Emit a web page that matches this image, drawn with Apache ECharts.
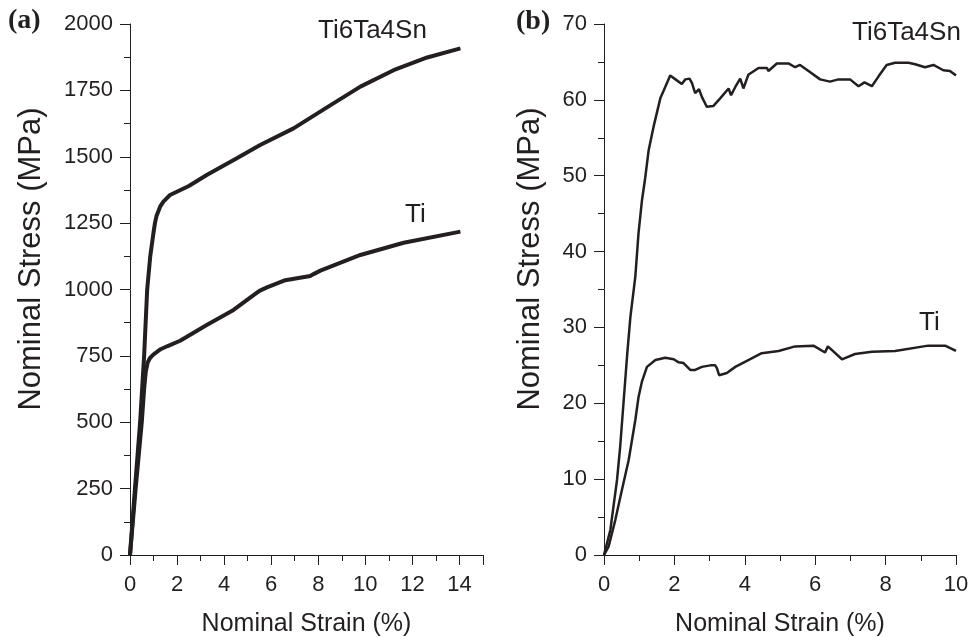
<!DOCTYPE html>
<html>
<head>
<meta charset="utf-8">
<title>Nominal stress-strain</title>
<script src="https://cdn.jsdelivr.net/npm/echarts@6/dist/echarts.min.js"></script>
<style>
  html, body { margin: 0; padding: 0; background: #fff; }
  #chart { width: 970px; height: 637px; }
</style>
</head>
<body>
<div id="chart"></div>
<script>
// (a) compression test, strain (%) / stress (MPa)
const aStrainTi6Ta4Sn = [0, 0.21, 0.43, 0.6, 0.73, 0.86, 1.0, 1.06, 1.13, 1.28, 1.42, 1.7, 1.99, 2.5, 3.26, 4.54, 5.53, 6.95, 8.37, 9.79, 11.2, 12.63, 14.04]
const aStressTi6Ta4Sn = [0, 250, 500, 750, 1000, 1125, 1215, 1250, 1278, 1312, 1331, 1356, 1368, 1390, 1431, 1494, 1544, 1607, 1686, 1764, 1826, 1874, 1908]
const aStrainTi = [0, 0.24, 0.5, 0.6, 0.67, 0.75, 0.85, 0.99, 1.3, 1.6, 2.13, 3.26, 4.4, 5.25, 5.5, 5.82, 6.6, 7.66, 7.8, 8.09, 9.79, 11.63, 14.04]
const aStressTi = [0, 250, 500, 625, 690, 725, 742, 755, 775, 787, 807, 866, 923, 979, 995, 1008, 1035, 1051, 1058, 1071, 1130, 1176, 1218]

// (b)
const bStrainTi6Ta4Sn = [0, 0.18, 0.37, 0.46, 0.56, 0.66, 0.75, 0.89, 0.98, 1.08, 1.17, 1.27, 1.41, 1.6, 1.74, 1.88, 2.03, 2.21, 2.31, 2.43, 2.5, 2.59, 2.7, 2.78, 2.92, 3.11, 3.3, 3.54, 3.61, 3.73, 3.87, 3.96, 4.1, 4.39, 4.63, 4.67, 4.91, 5.24, 5.43, 5.57, 5.81, 6.14, 6.42, 6.66, 6.99, 7.23, 7.4, 7.61, 7.8, 8.03, 8.27, 8.65, 8.84, 9.12, 9.36, 9.64, 9.83, 10.0]
const bStressTi6Ta4Sn = [0, 3.3, 9.9, 14.3, 20.4, 26.5, 31.4, 36.7, 42.4, 46.8, 49.7, 53.4, 56.5, 60.2, 61.7, 63.2, 62.7, 62.1, 62.7, 62.8, 62.2, 60.9, 61.4, 60.4, 59.1, 59.2, 60.2, 61.5, 60.6, 61.7, 62.8, 61.5, 63.3, 64.2, 64.2, 63.8, 64.8, 64.8, 64.3, 64.6, 63.8, 62.7, 62.4, 62.7, 62.7, 61.8, 62.3, 61.8, 63.1, 64.6, 64.9, 64.9, 64.7, 64.3, 64.6, 63.9, 63.8, 63.2]
const bStrainTi = [0, 0.13, 0.32, 0.51, 0.7, 0.89, 0.98, 1.08, 1.22, 1.46, 1.74, 1.98, 2.12, 2.26, 2.45, 2.59, 2.78, 3.02, 3.16, 3.21, 3.27, 3.49, 3.73, 4.1, 4.48, 4.96, 5.43, 5.95, 6.28, 6.36, 6.76, 7.13, 7.61, 8.27, 9.21, 9.69, 10.0]
const bStressTi = [0, 1.1, 4.6, 8.6, 12.5, 17.8, 20.8, 22.9, 24.8, 25.7, 26.0, 25.8, 25.4, 25.3, 24.4, 24.4, 24.8, 25.0, 25.0, 24.6, 23.7, 24.0, 24.8, 25.7, 26.6, 26.9, 27.5, 27.6, 26.7, 27.5, 25.8, 26.5, 26.8, 26.9, 27.6, 27.6, 26.9]

const aStrainTicks = [0, 15, 2]   // min, max, interval
const aStressTicks = [0, 2000, 250]
const bStrainTicks = [0, 10, 2]
const bStressTicks = [0, 70, 10]

const ink = '#231f20'
const font = 'Liberation Sans, Arial, sans-serif'

const pairs = (xs, ys) => xs.map((x, i) => [x, ys[i]])

const xAxisOf = (idx, ticks) => ({
  type: 'value',
  gridIndex: idx,
  min: ticks[0],
  max: ticks[1],
  interval: ticks[2],
  name: 'Nominal Strain (%)',
  nameLocation: 'middle',
  nameGap: 57,
  nameTextStyle: { color: ink, fontSize: 25, fontFamily: font },
  axisLine: { lineStyle: { color: ink, width: 1 } },
  axisTick: { length: 10, lineStyle: { color: ink } },
  minorTick: { show: true, splitNumber: 2, length: 6, lineStyle: { color: ink } },
  axisLabel: { color: ink, fontSize: 22, fontFamily: font, margin: 19, showMaxLabel: ticks[1] % ticks[2] === 0 },
  splitLine: { show: false }
})

const yAxisOf = (idx, ticks, gap) => ({
  type: 'value',
  gridIndex: idx,
  min: ticks[0],
  max: ticks[1],
  interval: ticks[2],
  name: 'Nominal Stress (MPa)',
  nameLocation: 'middle',
  nameGap: gap,
  // title sits a bit above the middle of the axis in the original
  nameTextStyle: { color: ink, fontSize: 31, fontFamily: font, padding: [0, 0, 0, 61] },
  axisLine: { show: true, lineStyle: { color: ink, width: 1 } },
  axisTick: { show: true, length: 10, lineStyle: { color: ink } },
  minorTick: { show: true, splitNumber: 2, length: 6, lineStyle: { color: ink } },
  axisLabel: { color: ink, fontSize: 22, fontFamily: font, margin: 17, formatter: v => String(v) },
  splitLine: { show: false }
})

const curve = (xi, yi, data, w) => ({
  type: 'line',
  xAxisIndex: xi,
  yAxisIndex: yi,
  data: data,
  showSymbol: false,
  smooth: false,
  lineStyle: { color: ink, width: w },
  silent: true
})

const label = (x, y, text, extra) => ({
  type: 'text',
  left: x,
  top: y,
  style: Object.assign({ text: text, fill: ink, font: '26px ' + font }, extra || {})
})

const chart = echarts.init(document.getElementById('chart'))
chart.setOption({
  animation: false,
  backgroundColor: '#fff',
  grid: [
    { left: 130, top: 24, width: 353, bottom: 82, outerBoundsMode: 'none' },
    { left: 604, top: 24, width: 352, bottom: 82, outerBoundsMode: 'none' }
  ],
  xAxis: [xAxisOf(0, aStrainTicks), xAxisOf(1, bStrainTicks)],
  yAxis: [yAxisOf(0, aStressTicks, 83), yAxisOf(1, bStressTicks, 58)],
  series: [
    curve(0, 0, pairs(aStrainTi6Ta4Sn, aStressTi6Ta4Sn), 4),
    curve(0, 0, pairs(aStrainTi, aStressTi), 4),
    curve(1, 1, pairs(bStrainTi6Ta4Sn, bStressTi6Ta4Sn), 2.5),
    curve(1, 1, pairs(bStrainTi, bStressTi), 2.5)
  ],
  graphic: [
    label(8, 7, '(a)', { font: 'bold 28px Liberation Serif, Times New Roman, serif' }),
    label(516, 8, '(b)', { font: 'bold 28px Liberation Serif, Times New Roman, serif' }),
    label(318, 18, 'Ti6Ta4Sn'),
    label(405, 202, 'Ti'),
    label(852, 20, 'Ti6Ta4Sn'),
    label(919, 310, 'Ti')
  ]
})
</script>
</body>
</html>
